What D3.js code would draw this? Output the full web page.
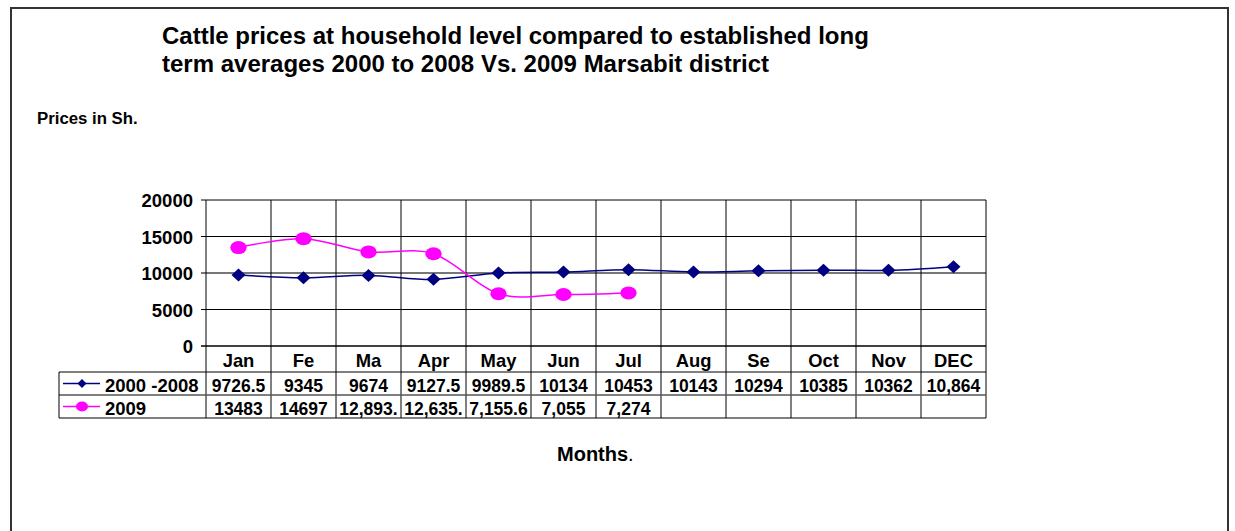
<!DOCTYPE html>
<html><head><meta charset="utf-8">
<script src="https://cdn.jsdelivr.net/npm/d3@7"></script>
<style>body{margin:0;background:#fff}svg{display:block;font-family:"Liberation Sans",Arial,sans-serif}</style>
</head><body><svg id="c" width="1235" height="531"></svg>
<script>
const months = ["Jan","Fe","Ma","Apr","May","Jun","Jul","Aug","Se","Oct","Nov","DEC"];
const seriesNames = ["2000 -2008","2009"];
const longTerm = [9726.5,9345,9674,9127.5,9989.5,10134,10453,10143,10294,10385,10362,10864];
const y2009 = [13483,14697,12893,12635,7155.6,7055,7274];
const longTermLabels = ["9726.5","9345","9674","9127.5","9989.5","10134","10453","10143","10294","10385","10362","10,864"];
const y2009Labels = ["13483","14697","12,893.","12,635.","7,155.6","7,055","7,274"];
const yTicks = [0,5000,10000,15000,20000];
const colors = ["#000080","#FF00FF"];

const svg = d3.select("#c");
const FF = "Liberation Sans, Arial, sans-serif";
// outer frame
svg.append("path").attr("d","M11,531V8H1228V531").attr("fill","none").attr("stroke","#333").attr("stroke-width",2);

svg.append("text").attr("x",162).attr("y",44).attr("font-size",24).attr("font-weight","bold")
  .text("Cattle prices at household level compared to established long");
svg.append("text").attr("x",162).attr("y",72).attr("font-size",24).attr("font-weight","bold")
  .text("term averages 2000 to 2008 Vs. 2009 Marsabit district");
svg.append("text").attr("x",37).attr("y",124).attr("font-size",16.8).attr("font-weight","bold").text("Prices in Sh.");

const L=206, R=986, T=200, B=346;
const x = d3.scaleBand().domain(months).range([L,R]);
const y = d3.scaleLinear().domain([0,20000]).range([B,T]);
const rowTop = 372, rowH = 23, tableLeft = 59;

// horizontal gridlines
svg.append("g").selectAll("line").data(yTicks).join("line")
  .attr("x1",L-5).attr("x2",R).attr("y1",d=>y(d)).attr("y2",d=>y(d))
  .attr("stroke",d=>d===10000?"#777":"#000").attr("stroke-width",d=>d===10000?2:(d===0?1.5:1));
// y-axis tick labels
const ya = d3.axisLeft(y).tickValues(yTicks).tickSize(0).tickPadding(13).tickFormat(d3.format("d"));
const yg = svg.append("g").attr("transform",`translate(${L},0)`).call(ya);
yg.select(".domain").remove();
yg.selectAll("text").attr("font-size",18.5).attr("font-weight","bold").attr("font-family",FF).attr("fill","#000").attr("dy","0.36em");

// vertical lines: column boundaries through the table
const bounds = months.map(m=>x(m)).concat([R]);
svg.append("g").selectAll("line").data(bounds).join("line")
  .attr("x1",d=>d).attr("x2",d=>d).attr("y1",T).attr("y2",rowTop+2*rowH)
  .attr("stroke","#000").attr("stroke-width",1);
// table horizontal lines
[rowTop,rowTop+rowH,rowTop+2*rowH].forEach(yy=>{
  svg.append("line").attr("x1",tableLeft).attr("x2",R).attr("y1",yy).attr("y2",yy).attr("stroke",yy===rowTop+rowH?"#555":"#000").attr("stroke-width",yy===rowTop+rowH?1.5:1);
});
svg.append("line").attr("x1",tableLeft).attr("x2",tableLeft).attr("y1",rowTop).attr("y2",rowTop+2*rowH).attr("stroke","#000");

// month labels
const xa = d3.axisBottom(x).tickSize(0).tickPadding(0);
const xg = svg.append("g").attr("transform",`translate(0,${B})`).call(xa);
xg.select(".domain").remove();
xg.selectAll("text").attr("dy",0).attr("y",21).attr("font-size",18.4).attr("font-weight","bold").attr("font-family",FF).attr("fill","#000");

// table values
const rows = [longTermLabels,y2009Labels];
const diamond = (w,h)=>`M0,${-h}L${w},0L0,${h}L${-w},0Z`;
rows.forEach((labels,i)=>{
  svg.append("g").selectAll("text").data(labels).join("text")
    .attr("x",(d,j)=>x(months[j])+x.bandwidth()/2).attr("y",rowTop+rowH*i+20)
    .attr("text-anchor","middle").attr("font-size",17.5).attr("font-weight","bold").text(d=>d);
  // legend keys
  const cy = rowTop+rowH*i+rowH/2;
  svg.append("line").attr("x1",63).attr("x2",100).attr("y1",cy).attr("y2",cy).attr("stroke",colors[i]).attr("stroke-width",1.5);
  if(i===0) svg.append("path").attr("d",diamond(4.5,4.5)).attr("transform",`translate(82,${cy})`).attr("fill",colors[0]);
  else svg.append("ellipse").attr("cx",82).attr("cy",cy).attr("rx",6).attr("ry",5).attr("fill",colors[1]);
  svg.append("text").attr("x",105).attr("y",rowTop+rowH*i+20).attr("font-size",18.5).attr("font-weight","bold").text(seriesNames[i]);
});

// series lines
const cx = (d,j)=>x(months[j])+x.bandwidth()/2;
const line = d3.line().x(cx).y(d=>y(d)).curve(d3.curveCardinal.tension(0));
svg.append("path").datum(longTerm).attr("d",line).attr("fill","none").attr("stroke",colors[0]).attr("stroke-width",1.5);
svg.append("path").datum(y2009).attr("d",line).attr("fill","none").attr("stroke",colors[1]).attr("stroke-width",1.5);
svg.append("g").selectAll("path").data(longTerm).join("path")
  .attr("d",diamond(7,6.5)).attr("transform",(d,j)=>`translate(${cx(d,j)},${y(d)})`).attr("fill",colors[0]);
svg.append("g").selectAll("ellipse").data(y2009).join("ellipse")
  .attr("cx",cx).attr("cy",d=>y(d)).attr("rx",8.2).attr("ry",6.5).attr("fill",colors[1]);

// x title
const mt = svg.append("text").attr("x",557).attr("y",461).attr("font-size",20).attr("font-weight","bold");
mt.append("tspan").text("Months");
mt.append("tspan").attr("font-weight","normal").text(".");
</script></body></html>
